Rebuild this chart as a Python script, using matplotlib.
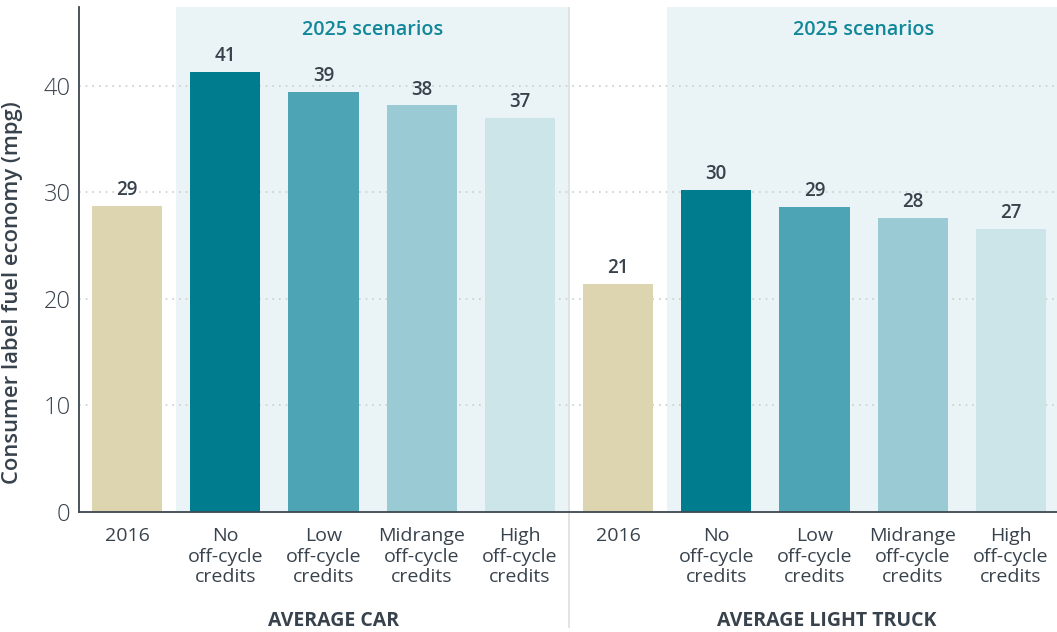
import matplotlib
matplotlib.use("Agg")
import matplotlib.pyplot as plt
import numpy as np

# Consumer label fuel economy (mpg), 2016 baseline and 2025 scenarios
groups = ["AVERAGE CAR", "AVERAGE LIGHT TRUCK"]
categories = ["2016", "No\noff-cycle\ncredits", "Low\noff-cycle\ncredits",
              "Midrange\noff-cycle\ncredits", "High\noff-cycle\ncredits"]
car_mpg = [28.75, 41.3, 39.45, 38.15, 37.0]
truck_mpg = [21.4, 30.25, 28.65, 27.6, 26.6]
yticks = [0, 10, 20, 30, 40]
scenario_label = "2025 scenarios"

bar_colors = ["#DDD5B0", "#007C8F", "#4DA4B5", "#9ACBD5", "#CCE5E9"]
text_color = "#38424C"
teal_text = "#13879A"
shade_color = "#EAF4F6"

plt.rcParams["font.family"] = ["Open Sans", "DejaVu Sans"]

fig = plt.figure(figsize=(10.57, 6.32), dpi=100)
ax = fig.add_axes([0.0747, 0.19, 0.9253, 0.799])

values = car_mpg + truck_mpg
n = len(categories)
x = np.arange(len(values))
colors = bar_colors * len(groups)

ax.set_xlim(-0.49, 9.47)
ax.set_ylim(0, 47.4)

# Shaded backgrounds behind the scenario bars of each group
for g in range(len(groups)):
    start = g * n + 0.5
    end = g * n + n - 0.5
    ax.axvspan(start, end, color=shade_color, zorder=0, lw=0)
    ax.text((start + end) / 2, 45.2, scenario_label, ha="center", va="center",
            fontsize=14.2, color=teal_text, fontweight="semibold")

# Divider between the two groups, running below the axis
ax.axvline(n - 0.5, ymin=0, ymax=1, color="#DCDFE1", lw=1.2, zorder=1)
ax.plot([n - 0.5, n - 0.5], [0, -10.8], color="#DCDFE1", lw=1.2,
        clip_on=False, zorder=1)

for yv in yticks[1:]:
    ax.axhline(yv, color="#C9CDD0", lw=1.2, ls=(0, (1, 3)), zorder=1)

bars = ax.bar(x, values, width=0.715, color=colors, zorder=2)
for xi, v in zip(x, values):
    ax.text(xi, v + 0.55, f"{round(v):d}", ha="center", va="bottom",
            fontsize=13.5, color=text_color, fontweight="semibold")

ax.set_xticks(x)
ax.set_xticklabels(categories * len(groups), fontsize=14, color=text_color,
                   linespacing=1.17)
ax.set_yticks(yticks)
ax.set_yticklabels([str(t) for t in yticks], fontsize=17, color=text_color,
                   fontweight="light")
ax.tick_params(axis="both", length=0)
ax.tick_params(axis="x", pad=11)
ax.tick_params(axis="y", pad=6)

for side in ["top", "right"]:
    ax.spines[side].set_visible(False)
for side in ["left", "bottom"]:
    ax.spines[side].set_color("#3E4852")
    ax.spines[side].set_linewidth(1.3)

ax.set_ylabel("Consumer label fuel economy (mpg)", fontsize=15.8,
              color=text_color, fontweight="semibold")
ax.yaxis.set_label_coords(-0.0575, 0.434)

group_x = [2.1, 7.13]
for gx, name in zip(group_x, groups):
    ax.text(gx, -10.2, name, ha="center", va="center", fontsize=14,
            color=text_color, fontweight="bold")

fig.savefig("out.png", dpi=100)
